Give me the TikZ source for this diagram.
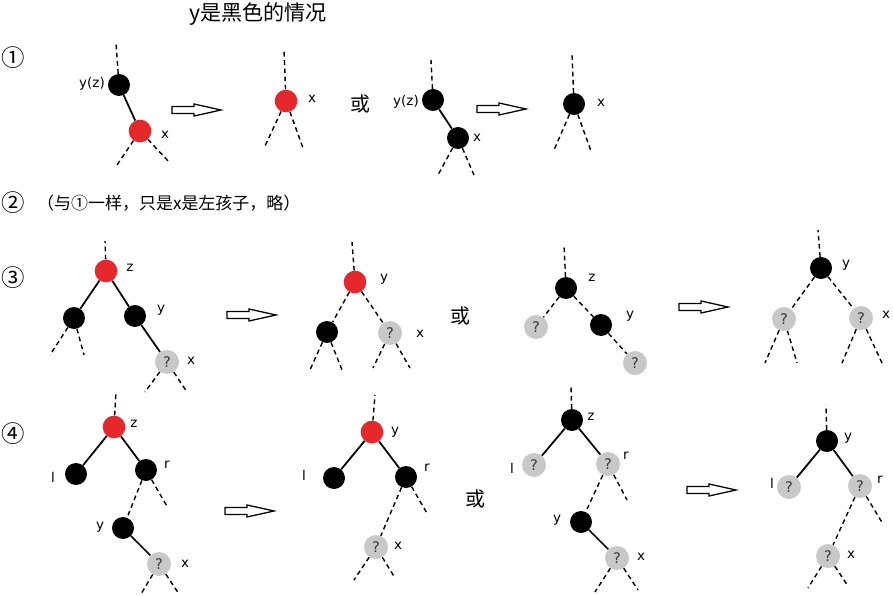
\documentclass[tikz,border=0pt]{standalone}
\usepackage{fontspec}
\setmainfont{DejaVu Sans}
\newfontfamily\cjk{Noto Sans CJK SC}
\usepackage{tikz}
\usetikzlibrary{positioning}
\definecolor{rbred}{HTML}{E5282C}
\definecolor{rbgray}{HTML}{C8C8C8}
\definecolor{rbqmark}{HTML}{3A3A3A}

\tikzset{
  blk/.style={circle,fill=black,minimum size=0.66cm,inner sep=0pt},
  rnd/.style={circle,fill=rbred,minimum size=0.68cm,inner sep=0pt},
  unk/.style={circle,fill=rbgray,minimum size=0.72cm,inner sep=0pt,
              text=rbqmark,font=\fontsize{12.5}{14}\selectfont},
  lab/.style={inner sep=0pt,font=\fontsize{11.5}{13}\selectfont},
  edge/.style={line width=1.5pt},
  stub/.style={line width=1.2pt,dash pattern=on 4pt off 3pt},
  harrow/.style={line width=1.1pt,fill=white},
}

\begin{document}
\begin{tikzpicture}[x=0.03cm,y=-0.03cm]
  \useasboundingbox (0,0) rectangle (893,596);
  % title and row marks
  \node[font=\cjk\fontsize{18}{20}\selectfont] (title) at (258,14) {y是黑色的情况};
  \node[font=\cjk\fontsize{20}{22}\selectfont] (c1) at (13,58) {①};
  \node[font=\cjk\fontsize{20}{22}\selectfont] (c2) at (13,203) {②};
  \node[font=\cjk\fontsize{20}{22}\selectfont] (c3) at (13,278) {③};
  \node[font=\cjk\fontsize{20}{22}\selectfont] (c4) at (13,434) {④};
  \node[anchor=west,font=\cjk\fontsize{14.5}{16}\selectfont] (note) at (33,203)
    {（与①一样，只是x是左孩子，略）};
  % the "or" marks
  \foreach \n/\x/\y in {or1/360/104, or3/460/316, or4/475/499}
    \node[font=\cjk\fontsize{17}{19}\selectfont] (\n) at (\x,\y) {或};
  % hollow arrows
  \foreach \ax/\ay in {172/110, 477/109, 227/315, 679/307, 225/511, 687/490}
    \draw[harrow] (\ax,\ay-3.5) -- ++(22,0) -- ++(0,-2.5) -- ++(27,6)
      -- ++(-27,6) -- ++(0,-2.5) -- ++(-22,0) -- cycle;

  % case 1
  \node[blk] (A1) at (119,85) {};
  \node[rnd] (A2) at (140,131) {};
  \node[lab] (A1l) at (92,84) {y(z)};
  \node[lab] (A2l) at (165,135) {x};
  \draw[edge] (A1) -- (A2);
  \node[rnd] (B1) at (286,101) {};
  \node[lab] (B1l) at (312,99) {x};
  \node[blk] (C1) at (433,100) {};
  \node[blk] (C2) at (458,138) {};
  \node[lab] (C1l) at (406,102) {y(z)};
  \node[lab] (C2l) at (477,138) {x};
  \draw[edge] (C1) -- (C2);
  \node[blk] (D1) at (574,104) {};
  \node[lab] (D1l) at (601,103) {x};
  \foreach \n/\dx/\dy in {A1/-3/-42, A2/-23/34, A2/30/32, B1/-2/-51, B1/-21/45,
      B1/17/47, C1/-2/-40, C2/-20/37, C2/16/37, D1/-2/-51, D1/-20/46, D1/17/47}
    \draw[stub] (\n) -- ++(\dx,\dy);

  % case 3
  \node[rnd] (E1) at (106,271) {};
  \node[blk] (E2) at (74,318) {};
  \node[blk] (E3) at (135,316) {};
  \node[unk] (E4) at (167,362) {?};
  \node[lab] (E1l) at (130,268) {z};
  \node[lab] (E3l) at (161,310) {y};
  \node[lab] (E4l) at (191,361) {x};
  \draw[edge] (E1) -- (E2) (E1) -- (E3) (E3) -- (E4);
  \node[rnd] (F1) at (355,282) {};
  \node[blk] (F2) at (327,332) {};
  \node[unk] (F3) at (390,333) {?};
  \node[lab] (F1l) at (384,279) {y};
  \node[lab] (F3l) at (420,334) {x};
  \draw[stub] (F1) -- (F2) (F1) -- (F3);
  \node[blk] (G1) at (566,288) {};
  \node[unk] (G2) at (536,327) {?};
  \node[blk] (G3) at (601,325) {};
  \node[unk] (G4) at (635,363) {?};
  \node[lab] (G1l) at (592,278) {z};
  \node[lab] (G3l) at (630,316) {y};
  \draw[stub] (G1) -- (G2) (G1) -- (G3) (G3) -- (G4);
  \node[blk] (H1) at (821,268) {};
  \node[unk] (H2) at (784,319) {?};
  \node[unk] (H3) at (861,318) {?};
  \node[lab] (H1l) at (846,265) {y};
  \node[lab] (H3l) at (886,315) {x};
  \draw[stub] (H1) -- (H2) (H1) -- (H3);
  \foreach \n/\dx/\dy in {E1/-1/-30, E2/-24/37, E2/10/37, E4/-22/30, E4/20/30,
      F1/-3/-40, F2/-17/38, F2/15/38, F3/-17/35, F3/20/35, G1/-2/-43,
      H1/-3/-38, H2/-19/44, H2/13/44, H3/-19/45, H3/21/45}
    \draw[stub] (\n) -- ++(\dx,\dy);

  % case 4
  \node[rnd] (I1) at (114,427) {};
  \node[blk] (I2) at (76,474) {};
  \node[blk] (I3) at (146,470) {};
  \node[blk] (I4) at (123,528) {};
  \node[unk] (I5) at (159,564) {?};
  \node[lab] (I1l) at (134,424) {z};
  \node[lab] (I2l) at (53,477) {l};
  \node[lab] (I3l) at (167,465) {r};
  \node[lab] (I4l) at (100,527) {y};
  \node[lab] (I5l) at (185,564) {x};
  \draw[edge] (I1) -- (I2) (I1) -- (I3) (I4) -- (I5);
  \draw[stub] (I3) -- (I4);
  \node[rnd] (J1) at (372,432) {};
  \node[blk] (J2) at (334,478) {};
  \node[blk] (J3) at (406,477) {};
  \node[unk] (J4) at (376,547) {?};
  \node[lab] (J1l) at (395,432) {y};
  \node[lab] (J2l) at (304,475) {l};
  \node[lab] (J3l) at (427,468) {r};
  \node[lab] (J4l) at (398,546) {x};
  \draw[edge] (J1) -- (J2) (J1) -- (J3);
  \draw[stub] (J3) -- (J4);
  \node[blk] (K1) at (572,420) {};
  \node[unk] (K2) at (534,465) {?};
  \node[unk] (K3) at (608,464) {?};
  \node[blk] (K4) at (581,522) {};
  \node[unk] (K5) at (617,558) {?};
  \node[lab] (K1l) at (591,417) {z};
  \node[lab] (K2l) at (512,468) {l};
  \node[lab] (K3l) at (626,456) {r};
  \node[lab] (K4l) at (557,520) {y};
  \node[lab] (K5l) at (641,557) {x};
  \draw[edge] (K1) -- (K2) (K1) -- (K3) (K4) -- (K5);
  \draw[stub] (K3) -- (K4);
  \node[blk] (L1) at (827,441) {};
  \node[unk] (L2) at (789,487) {?};
  \node[unk] (L3) at (860,486) {?};
  \node[unk] (L4) at (828,556) {?};
  \node[lab] (L1l) at (848,438) {y};
  \node[lab] (L2l) at (772,483) {l};
  \node[lab] (L3l) at (880,480) {r};
  \node[lab] (L4l) at (851,555) {x};
  \draw[edge] (L1) -- (L2) (L1) -- (L3);
  \draw[stub] (L3) -- (L4);
  \foreach \n/\dx/\dy in {I1/2/-35, I3/22/38, I5/-18/30, I5/20/30, J1/3/-37,
      J3/22/38, J4/-22/33, J4/19/31, K1/-1/-35, K3/19/36, K5/-22/34, K5/21/32,
      L1/-1/-36, L3/23/38, L4/-20/32, L4/20/30}
    \draw[stub] (\n) -- ++(\dx,\dy);
\end{tikzpicture}
\end{document}
